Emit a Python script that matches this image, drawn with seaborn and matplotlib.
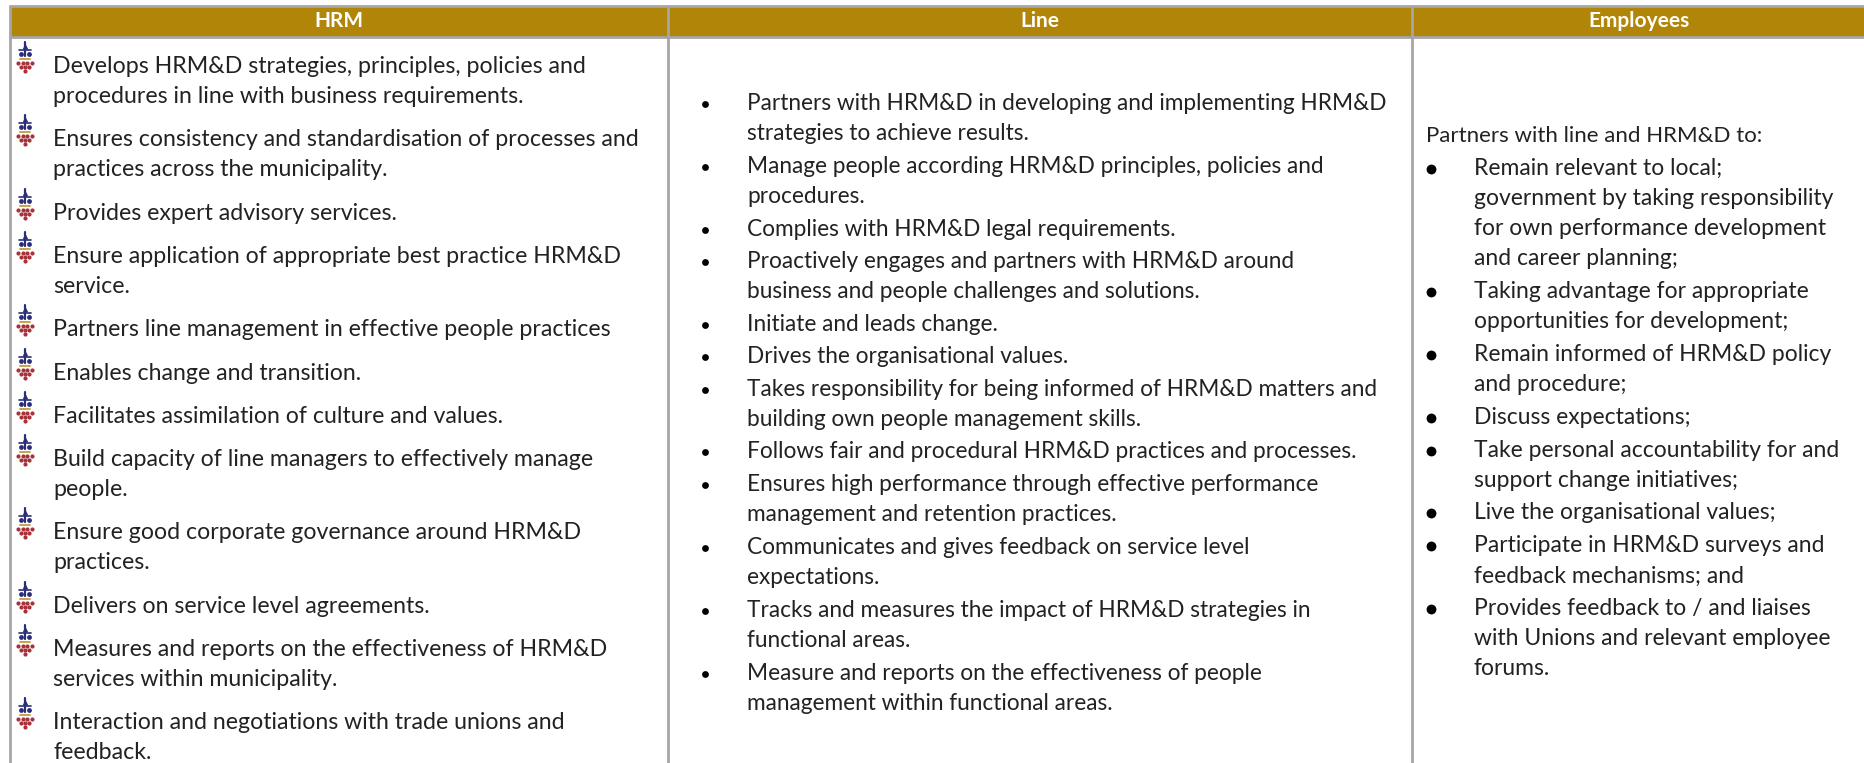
import matplotlib
matplotlib.use("Agg")
import matplotlib.pyplot as plt
import seaborn as sns

# == DATA ==
HEADERS = ["HRM", "Line", "Employees"]

HRM_ITEMS = [
    ["Develops HRM&D strategies, principles, policies and", "procedures in line with business requirements."],
    ["Ensures consistency and standardisation of processes and", "practices across the municipality."],
    ["Provides expert advisory services."],
    ["Ensure application of appropriate best practice HRM&D", "service."],
    ["Partners line management in effective people practices"],
    ["Enables change and transition."],
    ["Facilitates assimilation of culture and values."],
    ["Build capacity of line managers to effectively manage", "people."],
    ["Ensure good corporate governance around HRM&D", "practices."],
    ["Delivers on service level agreements."],
    ["Measures and reports on the effectiveness of HRM&D", "services within municipality."],
    ["Interaction and negotiations with trade unions and", "feedback."],
]

LINE_ITEMS = [
    ["Partners with HRM&D in developing and implementing HRM&D", "strategies to achieve results."],
    ["Manage people according HRM&D principles, policies and", "procedures."],
    ["Complies with HRM&D legal requirements."],
    ["Proactively engages and partners with HRM&D around", "business and people challenges and solutions."],
    ["Initiate and leads change."],
    ["Drives the organisational values."],
    ["Takes responsibility for being informed of HRM&D matters and", "building own people management skills."],
    ["Follows fair and procedural HRM&D practices and processes."],
    ["Ensures high performance through effective performance", "management and retention practices."],
    ["Communicates and gives feedback on service level", "expectations."],
    ["Tracks and measures the impact of HRM&D strategies in", "functional areas."],
    ["Measure and reports on the effectiveness of people", "management within functional areas."],
]

EMPLOYEE_INTRO = "Partners with line and HRM&D to:"
EMPLOYEE_ITEMS = [
    ["Remain relevant to local;", "government by taking responsibility", "for own performance development", "and career planning;"],
    ["Taking advantage for appropriate", "opportunities for development;"],
    ["Remain informed of HRM&D policy", "and procedure;"],
    ["Discuss expectations;"],
    ["Take personal accountability for and", "support change initiatives;"],
    ["Live the organisational values;"],
    ["Participate in HRM&D surveys and", "feedback mechanisms; and"],
    ["Provides feedback to / and liaises", "with Unions and relevant employee", "forums."],
]

# == STYLE ==
GOLD = "#B08508"
GREY = "#A6A6A6"
INK = "#222222"
W, H = 1865, 763
COL_LINES = [10, 668, 1412]


def draw_crest(ax, y):
    # little municipal crest used as bullet in the HRM column
    x = 25
    navy = "#2A2E78"
    ax.plot([x, x], [y - 24, y - 10], color=navy, lw=1.6, zorder=3)
    ax.scatter([x], [y - 20], marker="^", s=16, color=navy, lw=0, zorder=3)
    ax.scatter([x - 4, x + 4], [y - 12, y - 12], marker="o", s=12, color=navy, lw=0, zorder=3)
    ax.plot([x - 6, x + 6], [y - 16, y - 16], color=navy, lw=1.2, zorder=3)
    ax.plot([x - 5, x + 5], [y - 7, y - 7], color="#C9A24A", lw=1.4, zorder=3)
    for dy, n in [(-3, 4), (1, 3), (5, 1)]:
        xs = [x + (i - (n - 1) / 2) * 4.4 for i in range(n)]
        ax.scatter(xs, [y + dy] * n, marker="o", s=9, color="#A8323A", lw=0, zorder=3)


def draw_column(ax, items, text_x, first_y, line_step, item_step, size, bullet_x=None, bullet_s=36, crest=False):
    y = first_y
    for item in items:
        if crest:
            draw_crest(ax, y)
        elif bullet_x is not None:
            ax.scatter([bullet_x], [y + 1], marker="o", s=bullet_s, color="black", lw=0, zorder=3)
        for i, line in enumerate(item):
            ax.text(text_x, y + i * line_step + 7, line, fontsize=size, color=INK, va="baseline", ha="left")
        y += (len(item) - 1) * line_step + item_step


sns.set_theme(style="white")
plt.rcParams["font.family"] = ["Lato", "DejaVu Sans"]

fig, ax = plt.subplots(figsize=(W / 100, H / 100), dpi=100)
ax.set_position([0, 0, 1, 1])
ax.set_xlim(0, W)
ax.set_ylim(H, 0)
ax.axis("off")

# Header band and table rules
ax.axhspan(6, 36.5, xmin=COL_LINES[0] / W, xmax=1, color=GOLD, lw=0)
ax.plot([COL_LINES[0], W], [6, 6], color=GREY, lw=2)
ax.plot([COL_LINES[0], W], [37, 37], color=GREY, lw=2)
for x in COL_LINES:
    ax.plot([x, x], [6, H], color=GREY, lw=2)

# Headers
centres = [(COL_LINES[0] + COL_LINES[1]) / 2, (COL_LINES[1] + COL_LINES[2]) / 2, (COL_LINES[2] + W) / 2]
for name, cx in zip(HEADERS, centres):
    ax.text(cx, 21, name, color="white", fontsize=15, fontweight="bold", ha="center", va="center")

# Columns
draw_column(ax, HRM_ITEMS, 53, 66, 30, 43.3, 16.7, crest=True)
draw_column(ax, LINE_ITEMS, 747, 102.7, 30.5, 32.4, 16.3, bullet_x=704.6, bullet_s=24)
ax.text(1426, 142, EMPLOYEE_INTRO, fontsize=16, color=INK, va="baseline", ha="left")
draw_column(ax, EMPLOYEE_ITEMS, 1474, 168, 30, 32.9, 16.5, bullet_x=1431, bullet_s=50)

fig.savefig("out.png", dpi=100)
